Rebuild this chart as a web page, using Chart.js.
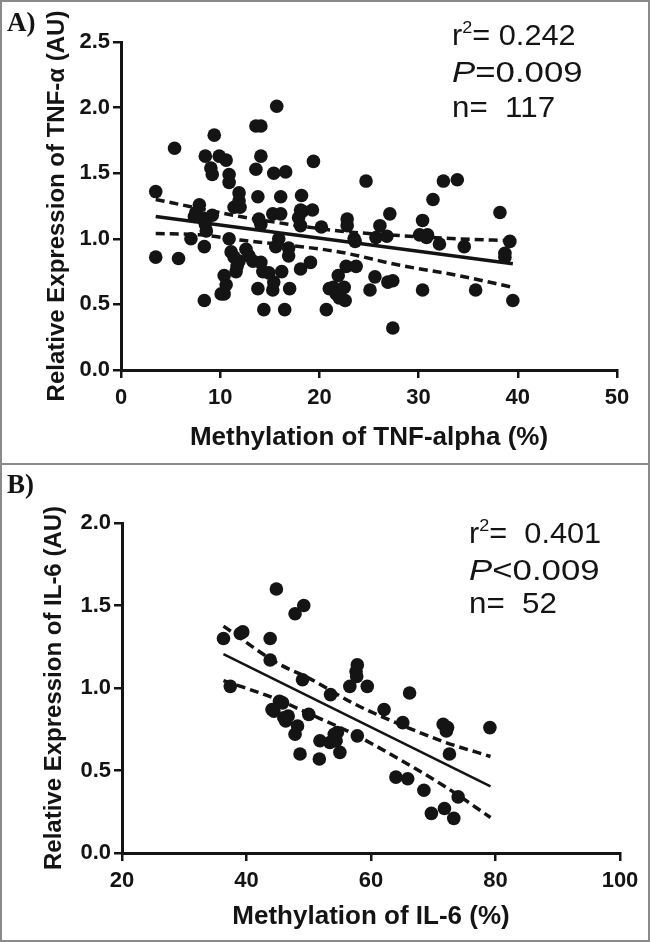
<!DOCTYPE html>
<html>
<head>
<meta charset="utf-8">
<script src="https://cdn.jsdelivr.net/npm/chart.js@4/dist/chart.umd.min.js"></script>
<style>
  html, body { margin: 0; padding: 0; background: #fff; }
  #fig { position: relative; width: 650px; height: 942px; background: #fff; overflow: hidden; }
  .panel { position: absolute; left: 0; width: 650px; }
  .panel canvas { display: block; }
  #panelA { top: 0; height: 465px; }
  #panelB { top: 465px; height: 477px; }
  .frame { position: absolute; box-sizing: border-box; border: 2px solid #8a8a8a; pointer-events: none; }
</style>
</head>
<body>
<div id="fig">
  <div class="panel" id="panelA"><canvas id="chartA" width="650" height="465"></canvas></div>
  <div class="panel" id="panelB"><canvas id="chartB" width="650" height="477"></canvas></div>
  <div class="frame" style="left:0;top:0;width:650px;height:942px"></div>
  <div class="frame" style="left:0;top:463px;width:650px;height:2px;border-width:2px 0 0 0"></div>
</div>
<script>
// ---- Panel A: TNF-alpha ----
const tnfMeth = [
  3.5, 3.5, 5.4, 5.8, 7.05, 7.4, 7.55, 7.9, 8.2, 8.4, 8.4, 8.5, 8.5, 8.6, 9.06, 9.2, 9.2, 9.4, 9.9,
  10.1, 10.4, 10.4, 10.6, 10.6, 10.9, 10.9, 10.9, 11.1, 11.4, 11.4, 11.6, 11.7, 11.9, 11.9, 11.9, 12.0,
  12.6, 12.9, 13.3, 13.6, 13.6, 13.8, 13.8, 13.9, 14.1, 14.1, 14.1, 14.1, 14.3, 14.4, 14.9, 15.3, 15.3,
  15.4, 15.4, 15.6, 15.7, 15.9, 16.1, 16.1, 16.2, 16.5, 16.6, 16.9, 16.9, 17.0, 17.9, 18.1, 18.1, 18.1,
  18.2, 18.3, 19.1, 19.3, 19.4,
  20.2, 20.7, 21.0, 21.4, 21.7, 21.9, 22.0, 22.5, 22.6, 22.7, 22.8, 22.8, 23.5, 23.6, 23.7, 24.7, 25.1,
  25.6, 25.7, 26.1, 26.8, 26.9, 27.1, 27.4, 27.4, 30.1, 30.4, 30.4, 30.8, 30.9, 31.45, 32.1, 32.5, 33.9,
  34.6, 35.75, 38.2, 38.7, 38.7, 39.2, 39.5
];
const tnfExpr = [
  1.36, 0.86, 1.69, 0.85, 1.0, 1.17, 1.2, 1.26, 1.16, 0.94, 0.53, 1.63, 1.11, 1.06, 1.54, 1.49, 1.18, 1.79, 1.63,
  0.58, 0.58, 0.72, 1.6, 0.65, 1.49, 1.43, 1.0, 0.9, 1.24, 0.86, 0.75, 0.79, 1.35, 1.29, 0.83, 1.24,
  0.92, 0.87, 0.83, 1.86, 1.53, 1.32, 0.62, 1.15, 1.86, 1.63, 1.11, 0.82, 0.75, 0.46, 0.74, 1.19, 0.61,
  1.5, 0.67, 0.94, 2.01, 1.0, 1.32, 1.19, 0.75, 0.46, 1.51, 0.93, 0.87, 0.62, 1.16, 1.22, 1.1, 0.77,
  1.33, 1.21, 0.82, 1.22, 1.59,
  1.09, 0.46, 0.62, 0.63, 0.58, 0.72, 0.55, 0.63, 0.53, 0.79, 1.15, 1.1, 1.0, 0.98, 0.79, 1.44, 0.61,
  0.71, 1.01, 1.1, 1.02, 0.67, 1.19, 0.68, 0.32, 1.03, 1.14, 0.61, 1.01, 1.03, 1.3, 0.96, 1.44, 1.45,
  0.94, 0.61, 1.2, 0.86, 0.89, 0.98, 0.53
];
const tnfFitX = [3.5, 39.5];
const tnfFitY = [1.17, 0.81];
const tnfBandX = [3.5, 8, 12, 17, 22, 28, 34, 39.5];
const tnfBandUpper = [1.30, 1.23, 1.17, 1.11, 1.06, 1.025, 1.0, 0.985];
const tnfBandLower = [1.04, 1.03, 0.99, 0.95, 0.90, 0.80, 0.72, 0.63];
const tnfStats = ['0.242', '=0.009', '117'];

// ---- Panel B: IL-6 ----
const il6Meth = [
  36.3, 37.4, 39.0, 39.4, 43.8, 43.8, 44.8, 44.4, 44.1, 45.3, 45.8, 46.0, 46.3, 46.7, 47.8, 49.2, 49.0,
  48.2, 47.8, 48.6, 50.0, 51.8, 51.7, 53.5, 53.4, 54.1, 54.4, 54.6, 55.0, 56.6, 57.6, 57.7, 57.8, 57.8,
  59.4, 62.1, 64.0, 65.1, 65.9, 66.2, 68.5, 69.7, 71.6, 72.1, 72.3, 71.8, 72.6, 73.3, 74.0, 79.1
];
const il6Expr = [
  1.30, 1.01, 1.33, 1.34, 1.30, 1.17, 1.60, 0.86, 0.87, 0.92, 0.91, 0.82, 0.80, 0.83, 1.45, 1.50, 1.05,
  0.77, 0.72, 0.60, 0.84, 0.68, 0.57, 0.96, 0.67, 0.72, 0.68, 0.73, 0.61, 1.01, 1.10, 1.07, 1.14, 0.71,
  1.01, 0.87, 0.46, 0.79, 0.45, 0.97, 0.38, 0.24, 0.78, 0.74, 0.76, 0.27, 0.60, 0.21, 0.34, 0.76
];
const il6FitX = [36.3, 79.2];
const il6FitY = [1.206, 0.404];
const il6BandX = [36.3, 45, 50, 57, 64, 72, 79.2];
const il6BandUpper = [1.375, 1.15, 1.06, 0.91, 0.79, 0.67, 0.585];
const il6BandLower = [1.045, 0.93, 0.845, 0.725, 0.58, 0.40, 0.215];
const il6Stats = ['0.401', '<0.009', '52'];

const INK = '#141414';
const SANS = '"Liberation Sans", Arial, sans-serif';
const toXY = (xs, ys) => xs.map((x, i) => ({ x: x, y: ys[i] }));

// draws "A)" and the r2 / P / n block
function statsPlugin(panelLabel, labelBase, stats, sx, bases, r2Gap) {
    return {
        id: 'stats' + panelLabel,
        afterDraw: (chart) => {
            const { ctx } = chart;
            ctx.save();
            ctx.fillStyle = INK;
            ctx.textBaseline = 'alphabetic';
            ctx.font = 'bold 27px "Liberation Serif", "DejaVu Serif", serif';
            ctx.fillText(panelLabel, 7, labelBase);

            const big = '29px ' + SANS;
            const line = (y, stretch, parts) => {
                ctx.save();
                ctx.translate(sx, y);
                ctx.scale(stretch, 1);
                let x = 0;
                parts.forEach(p => {
                    ctx.font = p.font;
                    ctx.fillText(p.t, x, p.dy || 0);
                    x += ctx.measureText(p.t).width;
                });
                ctx.restore();
            };
            line(bases[0], 1.06, [
                { t: 'r', font: big },
                { t: '2', font: '17px ' + SANS, dy: -12 },
                { t: '=' + r2Gap + stats[0], font: big }
            ]);
            line(bases[1], 1.2, [
                { t: 'P', font: 'italic ' + big },
                { t: stats[1], font: big }
            ]);
            line(bases[2], 1.08, [
                { t: 'n=  ' + stats[2], font: big }
            ]);
            ctx.restore();
        }
    };
}

function makeScatter(canvasId, cfg) {
    const tickFont = { family: SANS, size: 22, weight: 'bold' };
    const ctx = document.getElementById(canvasId).getContext('2d');
    return new Chart(ctx, {
        type: 'scatter',
        data: {
            datasets: [
                {
                    label: 'fit',
                    data: toXY(cfg.fitX, cfg.fitY),
                    showLine: true,
                    borderColor: INK,
                    borderWidth: cfg.fitWidth,
                    pointRadius: 0
                },
                {
                    label: 'upper 95% CI',
                    data: toXY(cfg.bandX, cfg.upper),
                    showLine: true,
                    borderColor: INK,
                    borderWidth: 3.5,
                    borderDash: [9, 5],
                    cubicInterpolationMode: 'monotone',
                    pointRadius: 0
                },
                {
                    label: 'lower 95% CI',
                    data: toXY(cfg.bandX, cfg.lower),
                    showLine: true,
                    borderColor: INK,
                    borderWidth: 3.5,
                    borderDash: [9, 5],
                    cubicInterpolationMode: 'monotone',
                    pointRadius: 0
                },
                {
                    label: 'samples',
                    data: toXY(cfg.xs, cfg.ys),
                    backgroundColor: INK,
                    borderWidth: 0,
                    pointRadius: 6.8
                }
            ]
        },
        options: {
            responsive: false,
            animation: false,
            devicePixelRatio: 1,
            layout: { padding: { top: cfg.padTop, right: cfg.padRight, left: 0, bottom: 0 } },
            plugins: { legend: { display: false }, tooltip: { enabled: false } },
            scales: {
                x: {
                    type: 'linear',
                    min: cfg.xMin, max: cfg.xMax,
                    ticks: { stepSize: cfg.xStep, color: INK, font: tickFont, padding: 7 },
                    grid: { drawOnChartArea: false, drawTicks: true, tickLength: 8, color: INK, lineWidth: 2.5 },
                    border: { color: INK, width: 3 },
                    title: {
                        display: true, text: cfg.xTitle, color: INK,
                        font: { family: SANS, size: 26, weight: 'bold' },
                        padding: { top: 0, bottom: cfg.xTitlePad }
                    },
                    afterFit: (s) => { s.height = cfg.xHeight; }
                },
                y: {
                    type: 'linear',
                    min: 0, max: cfg.yMax,
                    ticks: { stepSize: 0.5, color: INK, font: tickFont, padding: 3, callback: (v) => v.toFixed(1) },
                    grid: { drawOnChartArea: false, drawTicks: true, tickLength: 8, color: INK, lineWidth: 2.5 },
                    border: { color: INK, width: 3 },
                    title: {
                        display: true, text: cfg.yTitle, color: INK,
                        font: { family: SANS, size: 24, weight: 'bold' },
                        padding: { top: cfg.yTitlePad, bottom: 0 }
                    },
                    afterFit: (s) => { s.width = cfg.yWidth; }
                }
            }
        },
        plugins: [cfg.plugin]
    });
}

makeScatter('chartA', {
    xs: tnfMeth, ys: tnfExpr,
    fitX: tnfFitX, fitY: tnfFitY, fitWidth: 3.5,
    bandX: tnfBandX, upper: tnfBandUpper, lower: tnfBandLower,
    xMin: 0, xMax: 50, xStep: 10, yMax: 2.5,
    xTitle: 'Methylation of TNF-alpha (%)',
    yTitle: 'Relative Expression of TNF-\u03b1 (AU)',
    padTop: 42, padRight: 33, xHeight: 95, yWidth: 121,
    xTitlePad: 12, yTitlePad: 43,
    plugin: statsPlugin('A)', 31, tnfStats, 452, [45, 82, 117], ' ')
});

makeScatter('chartB', {
    xs: il6Meth, ys: il6Expr,
    fitX: il6FitX, fitY: il6FitY, fitWidth: 2.5,
    bandX: il6BandX, upper: il6BandUpper, lower: il6BandLower,
    xMin: 20, xMax: 100, xStep: 20, yMax: 2.0,
    xTitle: 'Methylation of IL-6 (%)',
    yTitle: 'Relative Expression of IL-6 (AU)',
    padTop: 58, padRight: 30, xHeight: 89, yWidth: 122,
    xTitlePad: 10, yTitlePad: 40,
    plugin: statsPlugin('B)', 28, il6Stats, 469, [78, 115, 148], '  ')
});
</script>
</body>
</html>
